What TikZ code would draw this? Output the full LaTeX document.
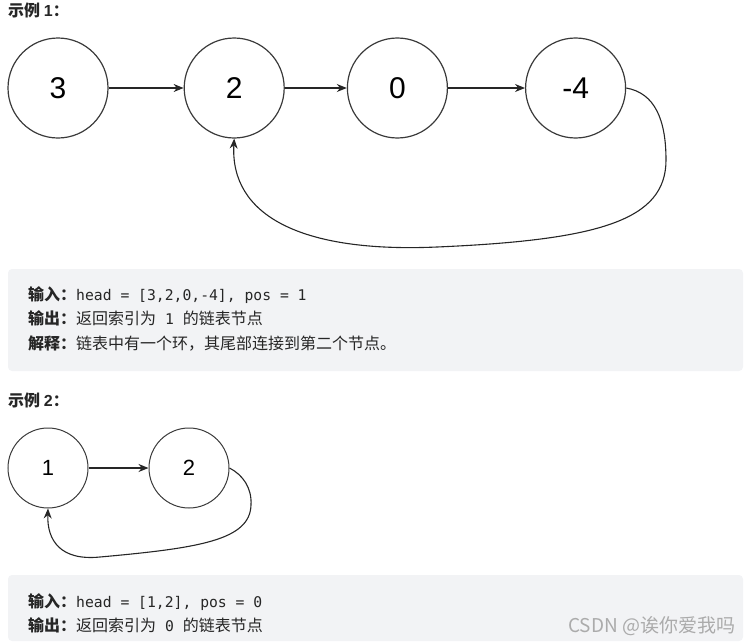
\documentclass[tikz,border=0pt]{standalone}
\usepackage{fontspec}
\setmainfont{Liberation Sans}
\newfontfamily\cjk{Noto Sans CJK SC}
\newfontfamily\code[Scale=0.92]{DejaVu Sans Mono}
\usetikzlibrary{arrows.meta,positioning}
\definecolor{codebg}{HTML}{F2F3F5}
\definecolor{ink}{HTML}{262626}
\definecolor{ring}{HTML}{3A3A3A}
\definecolor{wmgray}{HTML}{ABABAB}

\begin{document}
\begin{tikzpicture}[x=1pt,y=-1pt,
  node distance=75pt,
  ball/.style={circle,draw=ring,line width=1.2pt,minimum size=100pt,inner sep=0pt,font=\fontsize{30}{30}\selectfont},
  smallball/.style={ball,line width=1pt,minimum size=80pt,font=\fontsize{22}{22}\selectfont},
  arrow/.style={-{Stealth[length=10pt,width=8pt]},line width=1.1pt,draw=black!85},
  codebox/.style={fill=codebg,rounded corners=4pt},
  line/.style={anchor=base west,inner sep=0pt,text=ink,font=\cjk\fontsize{16}{16}\selectfont},
  title/.style={line,font=\cjk\fontsize{16}{16}\selectfont\bfseries}
]
\useasboundingbox (0,0) rectangle (755,643);
\node[title] (t1) at (8,16) {示例 {\rmfamily\bfseries 1}：};
\node[ball] (n3) at (58,88) {3};
\node[ball,right=75pt of n3] (n2) {2};
\node[ball,right=62pt of n2] (n0) {0};
\node[ball,right=77pt of n0] (nm4) {-4};
\coordinate (r1) at (666,160);
\coordinate (b1) at (437,247);
\draw[arrow] (n3) -- (n2);
\draw[arrow] (n2) -- (n0);
\draw[arrow] (n0) -- (nm4);
\draw[arrow] (nm4.east) .. controls (655,93) and (666,120) .. (r1) .. controls (666,220) and (600,240) .. (b1) .. controls (300,253) and (230,215) .. (n2.south);
\path[codebox] (8,269) rectangle (743,371);
\node[line] (in1) at (28,300) {{\bfseries 输入：}{\code head = [3,2,0,-4], pos = 1}};
\node[line] (out1) at (28,324) {{\bfseries 输出：}返回索引为{\code{} 1 }的链表节点};
\node[line] (exp1) at (28,349) {{\bfseries 解释：}链表中有一个环，其尾部连接到第二个节点。};
\node[title] (t2) at (8,406) {示例 {\rmfamily\bfseries 2}：};
\node[smallball] (m1) at (48,468) {1};
\node[smallball,right=60pt of m1] (m2) {2};
\coordinate (r2) at (251,505);
\coordinate (b2) at (100,557);
\draw[arrow] (m1) -- (m2);
\draw[arrow] (m2.east) .. controls (243,475) and (252,488) .. (r2) .. controls (250,540) and (200,548) .. (b2) .. controls (60,561) and (47,540) .. (m1.south);
\path[codebox] (8,575) rectangle (743,641);
\node[line] (in2) at (28,607) {{\bfseries 输入：}{\code head = [1,2], pos = 0}};
\node[line] (out2) at (28,631) {{\bfseries 输出：}返回索引为{\code{} 0 }的链表节点};
\node[line,text=wmgray,font=\cjk\fontsize{19}{19}\selectfont] (wm) at (568,632) {CSDN @诶你爱我吗};
\end{tikzpicture}
\end{document}
